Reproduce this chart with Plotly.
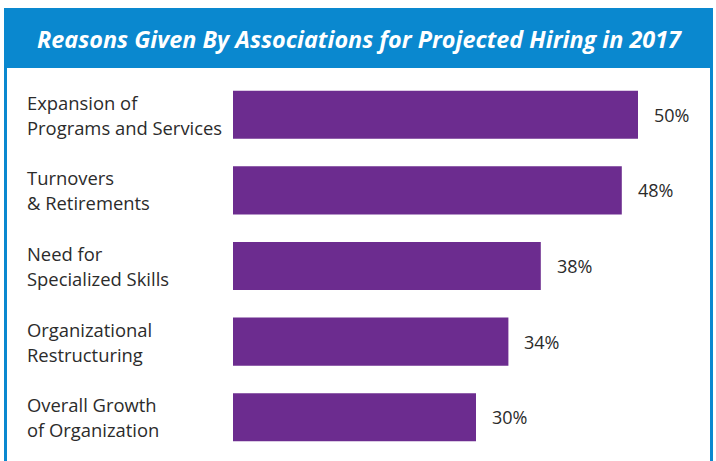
import plotly.graph_objects as go

# Survey results
reasons = [
    ["Expansion of", "Programs and Services"],
    ["Turnovers", "& Retirements"],
    ["Need for", "Specialized Skills"],
    ["Organizational", "Restructuring"],
    ["Overall Growth", "of Organization"],
]
shares = [50, 48, 38, 34, 30]
title = "Reasons Given By Associations for Projected Hiring in 2017"

W, H = 716, 461
ML, MR, MT, MB = 233, 30, 77, 6
PX_PER_UNIT = 8.1

PURPLE = "#6C2C8F"
BLUE = "#0A88CF"
TEXT = "#2B2B2B"
FONT = "Open Sans"

plot_w = W - ML - MR
plot_h = H - MT - MB


def px_x(px):
    return (px - ML) / plot_w


def px_y(py):
    return 1 - (py - MT) / plot_h


ypos = list(range(len(shares)))

fig = go.Figure(
    go.Bar(
        x=shares,
        y=ypos,
        orientation="h",
        marker=dict(color=PURPLE, line=dict(width=0)),
        hoverinfo="skip",
    )
)

annotations = []
# value labels beside each bar
for y, v in zip(ypos, shares):
    annotations.append(dict(
        x=v, y=y, xref="x", yref="y", text=f"{v}%", showarrow=False,
        xanchor="left", yanchor="middle", xshift=14,
        font=dict(family=FONT, size=18, color=TEXT),
    ))
# two-line category labels
for y, lines in zip(ypos, reasons):
    for k, line in enumerate(lines):
        annotations.append(dict(
            x=px_x(25), y=y, xref="paper", yref="y", text=line, showarrow=False,
            xanchor="left", yanchor="middle", yshift=12.5 - 25 * k,
            font=dict(family=FONT, size=18.4, color=TEXT),
        ))
# header title
annotations.append(dict(
    x=px_x(359), y=px_y(39), xref="paper", yref="paper", text=f"<b><i>{title}</i></b>",
    showarrow=False, xanchor="center", yanchor="middle",
    font=dict(family=FONT, size=23.4, color="white"),
))

shapes = [
    # header band
    dict(type="rect", xref="paper", yref="paper", x0=px_x(4), x1=px_x(713),
         y0=px_y(68), y1=px_y(8), fillcolor=BLUE, line=dict(width=0), layer="below"),
    # side borders of the panel
    dict(type="rect", xref="paper", yref="paper", x0=px_x(4), x1=px_x(7),
         y0=px_y(H + 2), y1=px_y(66), fillcolor=BLUE, line=dict(width=0), layer="below"),
    dict(type="rect", xref="paper", yref="paper", x0=px_x(710), x1=px_x(713),
         y0=px_y(H + 2), y1=px_y(66), fillcolor=BLUE, line=dict(width=0), layer="below"),
]

fig.update_layout(
    width=W, height=H,
    margin=dict(l=ML, r=MR, t=MT, b=MB, pad=0),
    paper_bgcolor="white", plot_bgcolor="white",
    showlegend=False,
    bargap=0.364,
    xaxis=dict(range=[0, plot_w / PX_PER_UNIT], visible=False, fixedrange=True),
    yaxis=dict(range=[len(shares) - 0.5, -0.5], visible=False, fixedrange=True),
    annotations=annotations,
    shapes=shapes,
)

fig.write_html("out.html")
